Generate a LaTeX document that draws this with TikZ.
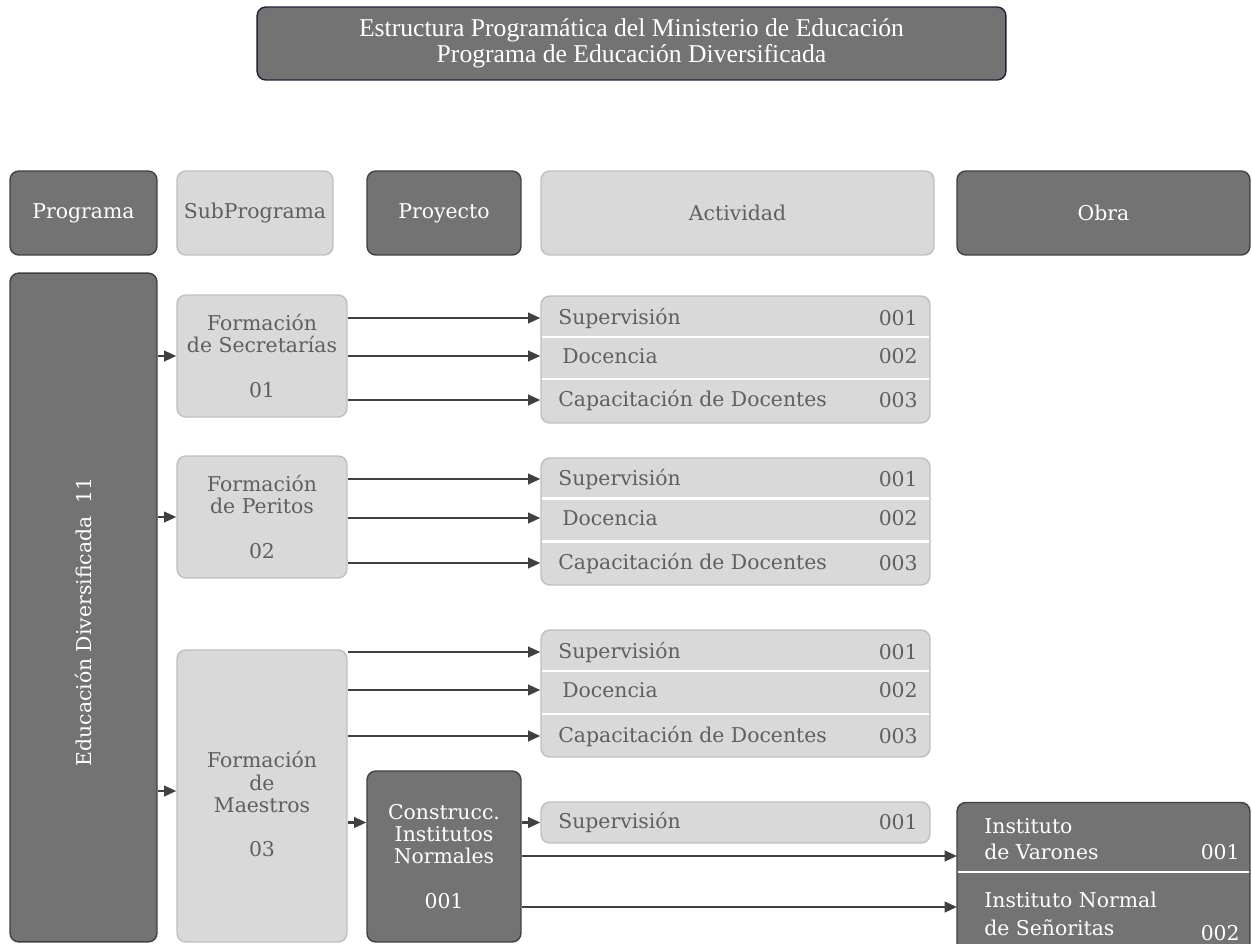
\documentclass[tikz,border=0pt]{standalone}
\usepackage{fontspec}
\setmainfont{DejaVu Serif}
\newfontfamily\titlefont{Liberation Serif}
\usetikzlibrary{arrows.meta}
\definecolor{darkbox}{HTML}{737373}
\definecolor{darkline}{HTML}{404040}
\definecolor{lightbox}{HTML}{D9D9D9}
\definecolor{lightline}{HTML}{BFBFBF}
\definecolor{lighttext}{HTML}{5F5F5F}
\definecolor{titleline}{HTML}{1E2433}
\tikzset{
  darkcell/.style={draw=darkline,fill=darkbox,text=white,rounded corners=5pt,line width=0.8pt,align=center,inner sep=0pt},
  lightcell/.style={draw=lightline,fill=lightbox,text=lighttext,rounded corners=5pt,line width=0.8pt,align=center,inner sep=0pt},
  rowtext/.style={text=lighttext,inner sep=0pt},
  sepline/.style={white,line width=1.6pt},
  arr/.style={draw=darkline,line width=1.3pt,-{Triangle[length=7pt,width=6pt]}}
}
\begin{document}
\begin{tikzpicture}[x=0.02cm,y=-0.02cm,font=\fontsize{11.6pt}{12.6pt}\selectfont]
\useasboundingbox (0,0) rectangle (1252,944);

\node[darkcell,draw=titleline,minimum width=14.98cm,minimum height=1.46cm,font=\titlefont\fontsize{14.6pt}{15pt}\selectfont] (title) at (631.5,43.5)
  {Estructura Programática del Ministerio de Educación\\Programa de Educación Diversificada};

\node[darkcell,minimum width=2.94cm,minimum height=1.68cm] (hprog) at (83.5,213) {Programa};
\node[lightcell,minimum width=3.12cm,minimum height=1.68cm] (hsub) at (255,213) {SubPrograma};
\node[darkcell,minimum width=3.08cm,minimum height=1.68cm] (hproy) at (444,213) {Proyecto};
\node[lightcell,minimum width=7.86cm,minimum height=1.68cm] (hact) at (737.5,213) {Actividad};
\node[darkcell,minimum width=5.86cm,minimum height=1.68cm] (hobra) at (1103.5,213) {Obra};

\node[darkcell,minimum width=2.94cm,minimum height=13.38cm] (prog) at (83.5,607.5) {};
\node[text=white,rotate=90] (progtext) at (83.5,622) {Educación Diversificada~~11};

\node[lightcell,minimum width=3.4cm,minimum height=2.44cm] (sub1) at (262,356) {Formación\\de Secretarías\\[12.6pt]01};
\node[lightcell,minimum width=3.4cm,minimum height=2.44cm] (sub2) at (262,517) {Formación\\de Peritos\\[12.6pt]02};
\node[lightcell,minimum width=3.4cm,minimum height=5.84cm] (sub3) at (262,796) {\\[6pt]Formación\\de\\Maestros\\[12.6pt]03};

\foreach \g/\cy/\ya/\yb/\yc in {1/359.5/318/356/400, 2/521.5/479/518/563, 3/693.5/652/690/736} {
  \node[lightcell,minimum width=7.78cm,minimum height=2.54cm] (act\g) at (735.5,\cy) {};
  \draw[sepline] ([xshift=0.8pt]act\g.west |- 0,{(\ya+\yb)/2}) -- ([xshift=-0.8pt]act\g.east |- 0,{(\ya+\yb)/2});
  \draw[sepline] ([xshift=0.8pt]act\g.west |- 0,{(\yb+\yc)/2+1}) -- ([xshift=-0.8pt]act\g.east |- 0,{(\yb+\yc)/2+1});
  \node[rowtext,anchor=west] (sup\g) at (558,\ya) {Supervisión};
  \node[rowtext,anchor=west] (doc\g) at (562,\yb) {Docencia};
  \node[rowtext,anchor=west] (cap\g) at (558,\yc) {Capacitación de Docentes};
  \node[rowtext,anchor=east] (na\g) at (918,\ya) {001};
  \node[rowtext,anchor=east] (nb\g) at (918,\yb) {002};
  \node[rowtext,anchor=east] (nc\g) at (918,\yc) {003};
  \draw[arr] (sub\g.east |- sup\g) -- (act\g.west |- sup\g);
  \draw[arr] (sub\g.east |- doc\g) -- (act\g.west |- doc\g);
  \draw[arr] (sub\g.east |- cap\g) -- (act\g.west |- cap\g);
}

\node[darkcell,minimum width=3.08cm,minimum height=3.42cm] (proy) at (444,856.5) {Construcc.\\Institutos\\Normales\\[12.6pt]001};
\node[lightcell,minimum width=7.78cm,minimum height=0.82cm] (act4) at (735.5,822.5) {};
\node[rowtext,anchor=west] (sup4) at (558,822) {Supervisión};
\node[rowtext,anchor=east] (na4) at (918,822) {001};

\node[darkcell,minimum width=5.86cm,minimum height=3.1cm] (obra) at (1103.5,880) {};
\draw[sepline] ([xshift=0.8pt]obra.west |- 0,872) -- ([xshift=-0.8pt]obra.east |- 0,872);
\node[text=white,anchor=west,align=left,inner sep=0pt,font=\fontsize{11.6pt}{14.8pt}\selectfont] (ob1) at (984,839) {Instituto\\de Varones};
\node[text=white,anchor=east,inner sep=0pt] (nob1) at (1240,852) {001};
\node[text=white,anchor=west,align=left,inner sep=0pt,font=\fontsize{11.6pt}{15.5pt}\selectfont] (ob2) at (984,914) {Instituto Normal\\de Señoritas};
\node[text=white,anchor=east,inner sep=0pt] (nob2) at (1240,933) {002};
\coordinate (to1) at (957,856);
\coordinate (to2) at (957,907);

\draw[arr] (prog.east |- sub1) -- (sub1.west);
\draw[arr] (prog.east |- sub2) -- (sub2.west);
\draw[arr] (prog.east |- 0,791) -- (sub3.west |- 0,791);
\draw[arr] (sub3.east |- act4) -- (proy.west |- act4);
\draw[arr] (proy.east |- act4) -- (act4.west);
\draw[arr] (proy.east |- to1) -- (to1);
\draw[arr] (proy.east |- to2) -- (to2);
\end{tikzpicture}
\end{document}
